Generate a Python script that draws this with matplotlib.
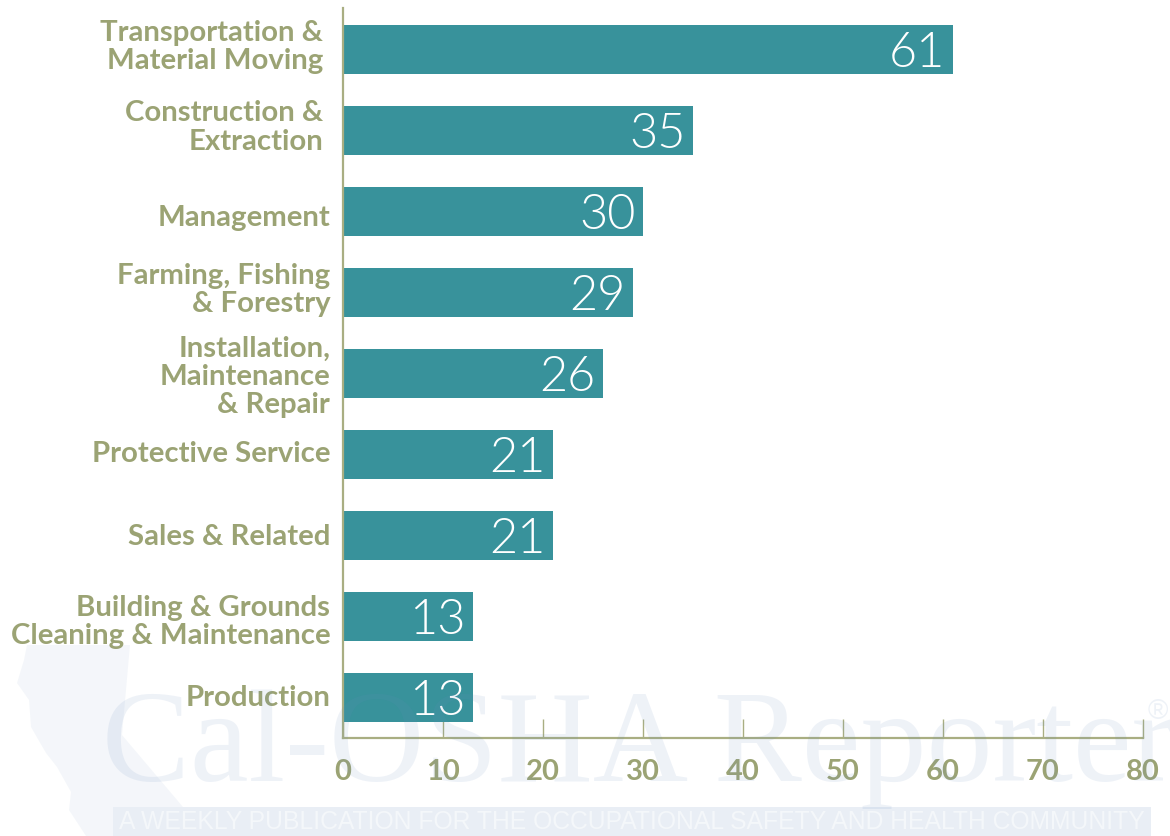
import matplotlib
matplotlib.use("Agg")
import matplotlib.pyplot as plt
from matplotlib.patches import Polygon, Rectangle
from matplotlib.transforms import ScaledTranslation

categories = ["Transportation &\nMaterial Moving", "Construction &\nExtraction", "Management",
              "Farming, Fishing\n& Forestry", "Installation,\nMaintenance\n& Repair", "Protective Service",
              "Sales & Related", "Building & Grounds\nCleaning & Maintenance", "Production"]
values = [61, 35, 30, 29, 26, 21, 21, 13, 13]
x_ticks = [0, 10, 20, 30, 40, 50, 60, 70, 80]

# label placement (pixels): horizontal and vertical nudge of each category label
label_dx = [-7, -7, 0, 0, 0, 0, 0, 0, 0]
label_dy = [6, 6.5, -4.5, 6, 0, 2.5, 0.5, -2, 1.5]

TEAL = "#38929B"
OLIVE = "#9BA374"
LINE = "#A9AE82"
W, H = 1170, 836

fig = plt.figure(figsize=(W / 100, H / 100), dpi=100, facecolor="white")
ax = fig.add_axes([343 / W, 1 - 738 / H, (1142.5 - 343) / W, (738 - 8) / H])
ax.set_facecolor("none")
ypos = list(range(len(values)))
ax.barh(ypos, values, height=49 / 81, color=TEAL, zorder=2)
ax.set_xlim(0, 80)
ax.set_ylim(8.5, -0.512)
for s in ("top", "right"):
    ax.spines[s].set_visible(False)
for s in ("left", "bottom"):
    ax.spines[s].set_color(LINE)
    ax.spines[s].set_linewidth(1.6)
ax.set_xticks(x_ticks)
ax.set_xticklabels([str(t) for t in x_ticks], fontsize=21, family="Lato", weight="bold", color=OLIVE)
ax.tick_params(axis="x", direction="in", length=14, width=1.0, color=LINE, pad=15, zorder=5)
ax.set_yticks(ypos)
ax.set_yticklabels(categories, fontsize=21.2, family="Lato", weight="bold", color=OLIVE, linespacing=1.1)
ax.tick_params(axis="y", length=0, pad=9.2)
for lab, dx, dy in zip(ax.get_yticklabels(), label_dx, label_dy):
    lab.set_transform(lab.get_transform() + ScaledTranslation(dx / 100, dy / 100, fig.dpi_scale_trans))
for y, v in zip(ypos, values):
    ax.text(v - 0.72, y + 0.045, str(v), ha="right", va="center", color="white",
            fontsize=35, family="Lato", weight=300, zorder=6)

# faint publisher watermark, laid over the chart
wm = (0.40, 0.55, 0.75)
def px(p):
    return [(x / W, 1 - y / H) for x, y in p]
state = px([(27, 645), (130, 645), (122, 735), (183, 807), (113, 807), (113, 836), (86, 836), (69, 810),
            (71, 792), (57, 767), (46, 753), (31, 727), (29, 700), (17, 683), (24, 660)])
fig.add_artist(Polygon(state, closed=True, transform=fig.transFigure, fc=wm, ec="none", alpha=0.07, zorder=0))
fig.add_artist(Rectangle((113 / W, 0), (1151 - 113) / W, (836 - 807) / H, transform=fig.transFigure,
                         fc=wm, ec="none", alpha=0.14, zorder=0))
fig.text(119 / W, 1 - 822 / H, "A WEEKLY PUBLICATION FOR THE OCCUPATIONAL SAFETY AND HEALTH COMMUNITY",
         family="Liberation Sans", fontsize=17.85, color="#F4F7FA", va="center", ha="left", zorder=1)
fig.text(102 / W, 1 - 781 / H, "Cal-OSHA Reporter", family="Liberation Serif", fontsize=95,
         color=wm, alpha=0.11, va="baseline", ha="left", zorder=10)
fig.text(1158 / W, 1 - 712 / H, "\u00ae", family="Liberation Sans", fontsize=20,
         color=wm, alpha=0.11, va="center", ha="center", zorder=10)

fig.savefig("out.png", dpi=100)
